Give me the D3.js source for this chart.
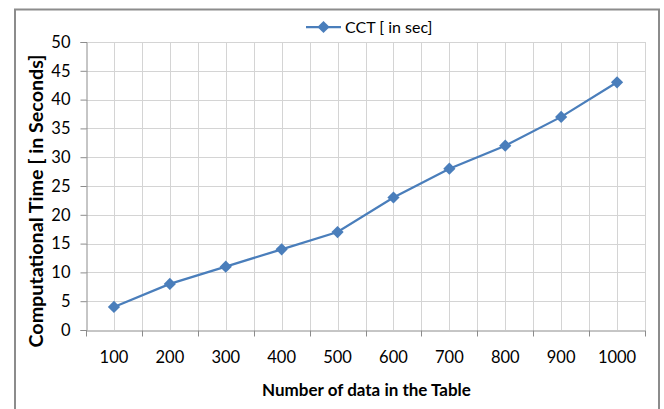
<!DOCTYPE html>
<html>
<head>
<meta charset="utf-8">
<script src="https://cdn.jsdelivr.net/npm/d3@7"></script>
<style>
  html, body { margin: 0; padding: 0; background: #fff; }
  svg { display: block; }
  text { font-family: Lato, "Open Sans", sans-serif; fill: #000; }
</style>
</head>
<body>
<svg id="chart" width="664" height="409"></svg>
<script>
// Number of records in the table vs. computation time
const categories = ["100", "200", "300", "400", "500", "600", "700", "800", "900", "1000"];
const cctSeconds = [4, 8, 11, 14, 17, 23, 28, 32, 37, 43];
const yTicks = [0, 5, 10, 15, 20, 25, 30, 35, 40, 45, 50];
const seriesName = "CCT [ in sec]";
const xTitle = "Number of data in the Table";
const yTitle = "Computational Time [ in Seconds]";

const svg = d3.select("#chart");
const W = 664, H = 409;
const plot = { left: 86, right: 645, top: 42, bottom: 330 };
const lineColor = "#4a7ebb";
const tickFont = 16.5;

// outer frame (open at the bottom)
svg.append("path")
  .attr("d", `M15,${H} L15,9.5 L659,9.5 L659,${H}`)
  .attr("fill", "none")
  .attr("stroke", "#8c8c8c")
  .attr("stroke-width", 2);

const x = d3.scaleBand().domain(categories).range([plot.left, plot.right]).padding(0);
const y = d3.scaleLinear().domain([0, 50]).range([plot.bottom, plot.top]);

const grid = svg.append("g").attr("stroke", "#d4d4d4").attr("stroke-width", 1);
// horizontal gridlines
grid.selectAll("line.h").data(yTicks.filter(d => d > 0)).join("line")
  .attr("x1", plot.left).attr("x2", plot.right)
  .attr("y1", d => Math.round(y(d)) + 0.5).attr("y2", d => Math.round(y(d)) + 0.5);
// vertical gridlines at category boundaries and centers
const vLines = [];
categories.forEach(c => {
  vLines.push(x(c) + x.bandwidth() / 2);
  vLines.push(x(c) + x.bandwidth());
});
grid.selectAll("line.v").data(vLines).join("line")
  .attr("x1", d => Math.round(d) + 0.5).attr("x2", d => Math.round(d) + 0.5)
  .attr("y1", plot.top).attr("y2", plot.bottom);

// y axis
const yAxis = svg.append("g")
  .attr("transform", `translate(${plot.left + 0.5},0)`)
  .call(d3.axisLeft(y).tickValues(yTicks).tickSize(6).tickPadding(10));
yAxis.select(".domain").attr("stroke", "#8c8c8c");
yAxis.selectAll(".tick line").attr("stroke", "#8c8c8c");
yAxis.selectAll(".tick text").attr("font-size", tickFont).attr("fill", "#000")
  .attr("font-family", "Lato, sans-serif");

// x axis
const xAxis = svg.append("g")
  .attr("transform", `translate(0,${plot.bottom + 0.5})`)
  .call(d3.axisBottom(x).tickSize(0).tickPadding(21));
xAxis.select(".domain").attr("stroke", "#8c8c8c");
xAxis.selectAll(".tick text").attr("font-size", tickFont).attr("fill", "#000")
  .attr("font-family", "Lato, sans-serif");
// tick marks at category boundaries
xAxis.selectAll("line.bt").data([plot.left, ...categories.map(c => x(c) + x.bandwidth())]).join("line")
  .attr("x1", d => Math.round(d) + 0.5).attr("x2", d => Math.round(d) + 0.5)
  .attr("y1", 0).attr("y2", 6)
  .attr("stroke", "#8c8c8c");

// series line
const cx = d => x(d) + x.bandwidth() / 2;
const pts = categories.map((c, i) => [cx(c), y(cctSeconds[i])]);
svg.append("path")
  .attr("d", d3.line()(pts))
  .attr("fill", "none")
  .attr("stroke", lineColor)
  .attr("stroke-width", 2.25);

const diamond = d3.symbol().type(d3.symbolDiamond2).size(95);
svg.selectAll("path.pt").data(pts).join("path")
  .attr("transform", d => `translate(${d[0]},${d[1]})`)
  .attr("d", diamond)
  .attr("fill", lineColor);

// legend
const lg = svg.append("g").attr("transform", "translate(306,27)");
lg.append("line").attr("x1", 0).attr("x2", 35).attr("y1", 0).attr("y2", 0)
  .attr("stroke", lineColor).attr("stroke-width", 2.25);
lg.append("path").attr("transform", "translate(17.5,0)").attr("d", diamond).attr("fill", lineColor);
lg.append("text").attr("x", 39).attr("y", 0).attr("dy", "0.35em")
  .attr("font-size", 16).text(seriesName);

// axis titles
svg.append("text")
  .attr("x", (plot.left + plot.right) / 2 + 1).attr("y", 390)
  .attr("text-anchor", "middle").attr("dy", "0.35em")
  .attr("font-size", 17).attr("font-weight", "bold")
  .text(xTitle);
svg.append("text")
  .attr("transform", `translate(37,${(plot.top + plot.bottom) / 2 + 15}) rotate(-90)`)
  .attr("text-anchor", "middle").attr("dy", "0.35em")
  .attr("font-size", 18.5).attr("font-weight", "bold")
  .attr("textLength", 293).attr("lengthAdjust", "spacingAndGlyphs")
  .text(yTitle);
</script>
</body>
</html>
